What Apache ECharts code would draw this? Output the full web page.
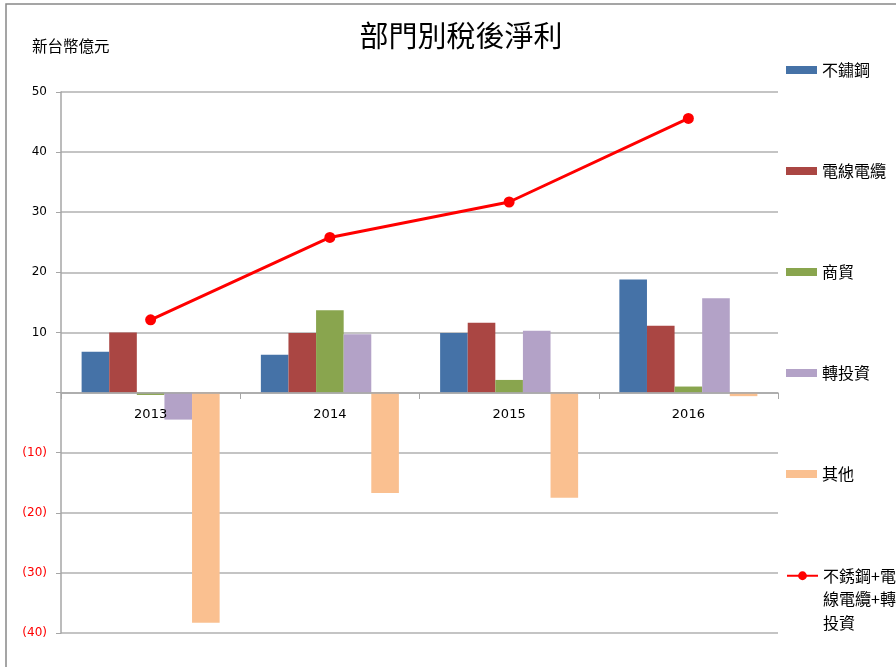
<!DOCTYPE html>
<html>
<head>
<meta charset="UTF-8">
<title>部門別稅後淨利</title>
<script src="https://cdn.jsdelivr.net/npm/echarts@6/dist/echarts.min.js"></script>
<style>
	html, body { margin: 0; padding: 0; background: #fff; }
	#chart { width: 896px; height: 667px; }
</style>
</head>
<body>
<div id="chart"></div>
<script>
	// 年度
	var years = ['2013', '2014', '2015', '2016'];
	// 各部門稅後淨利 (新台幣億元)
	var stainless = [6.8, 6.3, 9.9, 18.8];
	var wire = [10.0, 9.9, 11.6, 11.1];
	var trade = [-0.4, 13.7, 2.1, 1.0];
	var invest = [-4.5, 9.7, 10.3, 15.7];
	var others = [-38.3, -16.7, -17.5, -0.6];
	var combined = [12.1, 25.8, 31.7, 45.6];

	var barNames = ['不鏽鋼', '電線電纜', '商貿', '轉投資', '其他'];
	var barData = [stainless, wire, trade, invest, others];
	var barColors = ['#4572A7', '#AA4643', '#89A54E', '#B3A2C7', '#FAC090'];
	var lineName = '不銹鋼+電線電纜+轉投資';

	var cjk = '"Noto Sans CJK TC", "Noto Sans CJK SC", sans-serif';

	var series = [];
	for (var i = 0; i < barNames.length; i++) {
		series.push({
			name: barNames[i],
			type: 'bar',
			data: barData[i],
			itemStyle: { color: barColors[i] },
			barGap: '0%',
			barCategoryGap: '23%'
		});
	}
	series.push({
		name: lineName,
		type: 'line',
		data: combined,
		symbol: 'circle',
		symbolSize: 11,
		itemStyle: { color: '#FF0000' },
		lineStyle: { color: '#FF0000', width: 3 },
		z: 5
	});

	var chart = echarts.init(document.getElementById('chart'));
	chart.setOption({
		animation: false,
		backgroundColor: '#fff',
		graphic: [{
			type: 'rect',
			shape: { x: 6, y: 4, width: 1000, height: 1000 },
			style: { fill: 'none', stroke: '#888', lineWidth: 1.5 },
			silent: true
		}],
		title: [{
			text: '部門別稅後淨利',
			left: 456,
			textAlign: 'center',
			top: 16,
			textStyle: { fontFamily: cjk, fontSize: 29, fontWeight: 'normal', color: '#000' }
		}, {
			text: '新台幣億元',
			left: 32,
			top: 38,
			padding: 0,
			textStyle: { fontFamily: cjk, fontSize: 15.5, fontWeight: 'normal', color: '#000' }
		}],
		legend: [{
			orient: 'vertical',
			left: 781,
			top: 57,
			itemWidth: 31,
			itemHeight: 8,
			itemGap: 85,
			icon: 'rect',
			data: barNames,
			textStyle: { fontFamily: cjk, fontSize: 16, color: '#000', lineHeight: 16 }
		}, {
			orient: 'vertical',
			left: 781,
			top: 512,
			itemWidth: 31,
			itemHeight: 11,
			data: [lineName],
			// 前兩行留空，讓第一行與圖示對齊
			formatter: function () { return '\n\n不銹鋼+電\n線電纜+轉\n投資'; },
			textStyle: { fontFamily: cjk, fontSize: 16, color: '#000', lineHeight: 23.5 }
		}],
		grid: { left: 61, right: 118, top: 92, bottom: 34, containLabel: false },
		xAxis: {
			type: 'category',
			data: years,
			offset: -240,
			axisLine: { onZero: false, lineStyle: { color: '#a6a6a6', width: 1.5 } },
			axisTick: { show: true, length: 6, lineStyle: { color: '#a6a6a6' } },
			axisLabel: { fontFamily: 'DejaVu Sans', fontSize: 13, color: '#000', margin: 15 },
			z: 10
		},
		yAxis: {
			type: 'value',
			min: -40,
			max: 50,
			interval: 10,
			axisLine: { show: true, lineStyle: { color: '#a6a6a6', width: 1.5 } },
			axisTick: { show: true, length: 5, lineStyle: { color: '#a6a6a6' } },
			splitLine: { lineStyle: { color: '#b0b0b0', width: 1.5 } },
			axisLabel: {
				fontFamily: 'DejaVu Sans',
				fontSize: 12,
				margin: 14,
				formatter: function (v) {
					if (v < 0) return '{neg|(' + (-v) + ')}';
					if (v === 0) return '';
					return '{pos|' + v + '}';
				},
				rich: {
					neg: { color: '#FF0000', fontFamily: 'DejaVu Sans', fontSize: 12 },
					pos: { color: '#000', fontFamily: 'DejaVu Sans', fontSize: 12 }
				}
			}
		},
		series: series
	});
</script>
</body>
</html>
